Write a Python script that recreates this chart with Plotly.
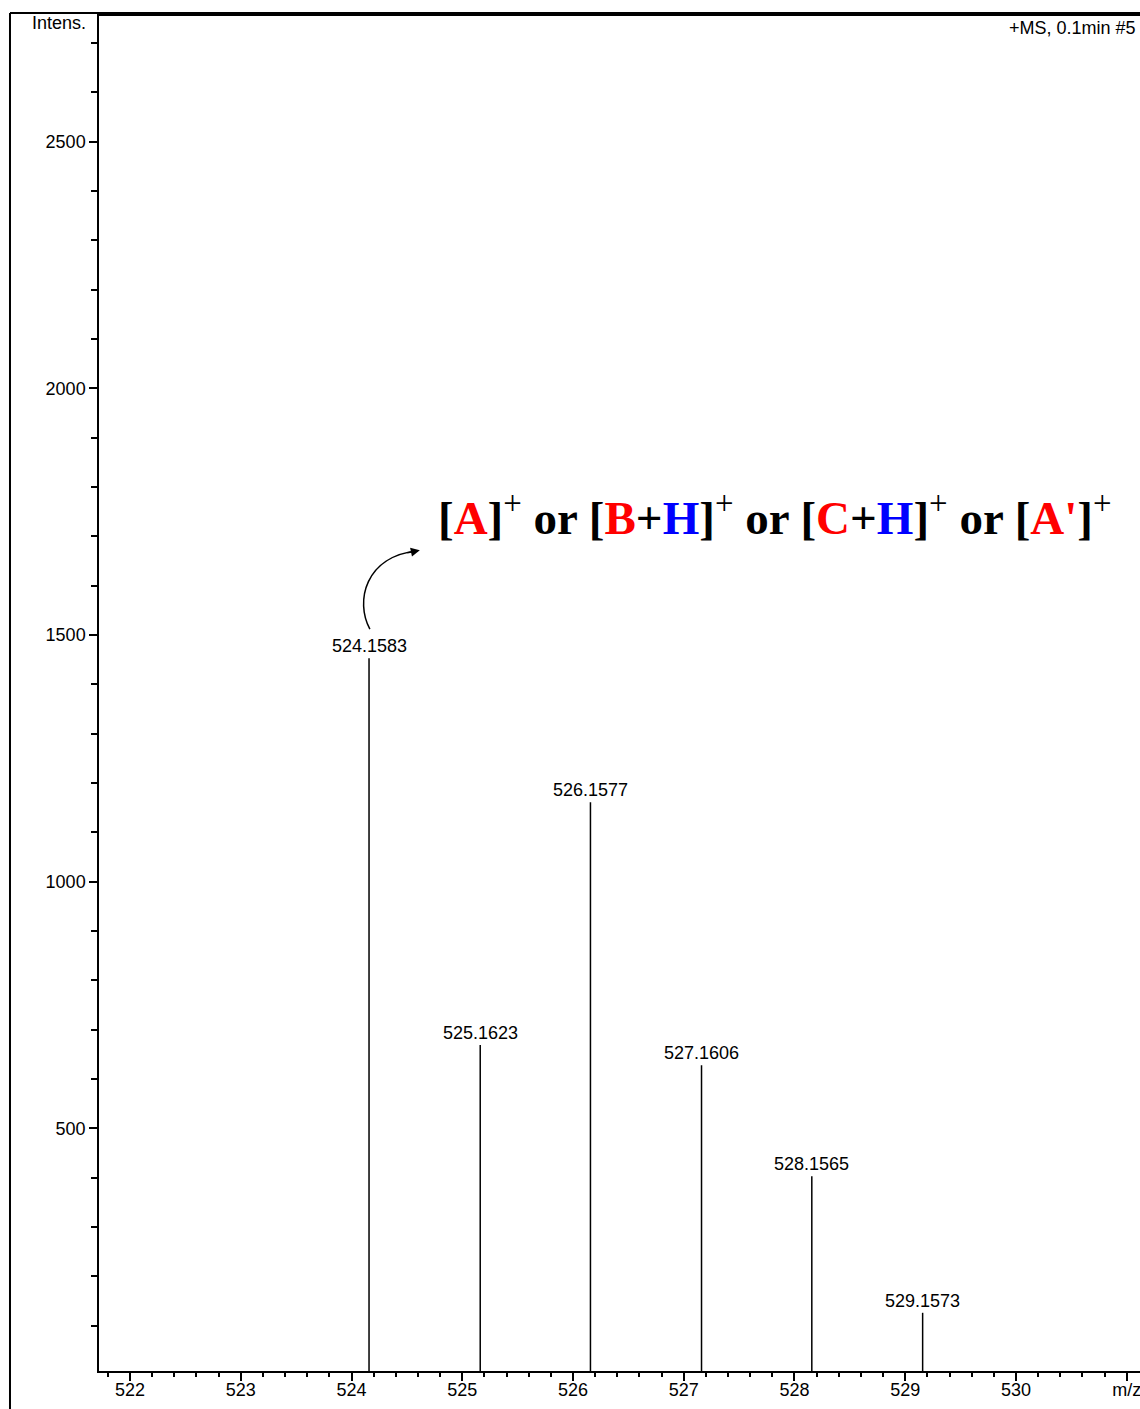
import plotly.graph_objects as go

# ---- data ----
peak_mz = [524.1583, 525.1623, 526.1577, 527.1606, 528.1565, 529.1573]
peak_int = [1453, 669, 1161, 628, 403, 126]
peak_labels = ["524.1583", "525.1623", "526.1577", "527.1606", "528.1565", "529.1573"]
x_tickvals = [522, 523, 524, 525, 526, 527, 528, 529, 530, 531]
x_ticktext = ["522", "523", "524", "525", "526", "527", "528", "529", "530", "m/z"]
y_tickvals = [500, 1000, 1500, 2000, 2500]
y_ticktext = ["500", "1000", "1500", "2000", "2500"]

FONT = "Liberation Sans, Arial, sans-serif"
FS = 18

xs, ys = [], []
for m, h in zip(peak_mz, peak_int):
    xs += [m, m, None]
    ys += [0, h, None]

fig = go.Figure()
fig.add_trace(go.Scatter(x=xs, y=ys, mode="lines",
                         line=dict(color="black", width=1.5),
                         hoverinfo="skip", showlegend=False))

annotations = []
for m, h, lab in zip(peak_mz, peak_int, peak_labels):
    annotations.append(dict(x=m, y=h, text=lab, showarrow=False,
                            xanchor="center", yanchor="bottom", yshift=0,
                            font=dict(family=FONT, size=FS, color="black")))

R = "<b style='color:#ff0000'>"
B = "<b style='color:#0000ff'>"
big = ("<b>[</b>" + R + "A</b><b>]</b><sup>+</sup><b> or [</b>" + R + "B</b><b>+</b>" + B + "H</b><b>]</b><sup>+</sup>"
       "<b> or [</b>" + R + "C</b><b>+</b>" + B + "H</b><b>]</b><sup>+</sup><b> or [</b>" + R + "A'</b><b>]</b><sup>+</sup>")
annotations.append(dict(x=524.762, y=1745, text=big, showarrow=False,
                        xanchor="left", yanchor="middle",
                        font=dict(family="Liberation Serif, Times New Roman, serif", size=47, color="black")))

# arrowhead at the end of the curved arrow
annotations.append(dict(x=524.617, y=1672, ax=-14, ay=3, text="", showarrow=True,
                        arrowhead=2, arrowsize=1.2, arrowwidth=1.5, arrowcolor="black",
                        axref="pixel", ayref="pixel"))

annotations.append(dict(x=-0.0106, y=0.9948, xref="paper", yref="paper", text="Intens.",
                        showarrow=False, xanchor="right", yanchor="middle",
                        font=dict(family=FONT, size=FS, color="black")))
annotations.append(dict(x=0.998, y=0.991, xref="paper", yref="paper", text="+MS, 0.1min #5",
                        showarrow=False, xanchor="right", yanchor="middle",
                        font=dict(family=FONT, size=FS, color="black")))

shapes = [
    # curved arrow body
    dict(type="path", xref="x", yref="y",
         path="M 524.166,1512 C 524.031,1568 524.121,1660 524.60,1671",
         line=dict(color="black", width=1.5)),
    # outer frame
    dict(type="line", xref="paper", yref="paper", x0=-0.0855, x1=-0.0855, y0=-0.03, y1=1.0022,
         line=dict(color="black", width=2)),
    dict(type="line", xref="paper", yref="paper", x0=-0.0855, x1=1.0, y0=1.0022, y1=1.0022,
         line=dict(color="black", width=2)),
]

fig.update_layout(
    width=1140, height=1409,
    margin=dict(l=99, r=0, t=16, b=38),
    paper_bgcolor="white", plot_bgcolor="white",
    font=dict(family=FONT, size=FS, color="black"),
    annotations=annotations, shapes=shapes,
    showlegend=False,
)
fig.update_xaxes(range=[521.72, 531.12], showgrid=False, zeroline=False,
                 showline=True, linecolor="black", linewidth=1.5, mirror=True,
                 tickmode="array", tickvals=x_tickvals, ticktext=x_ticktext,
                 ticks="outside", ticklen=8, tickwidth=1.5, tickcolor="black",
                 ticklabeloverflow="allow", ticklabelstandoff=-6,
                 minor=dict(dtick=0.2, tick0=522, ticks="outside", ticklen=4, tickwidth=1.5, tickcolor="black"),
                 tickfont=dict(family=FONT, size=FS))
fig.update_yaxes(range=[8, 2755], showgrid=False, zeroline=False,
                 showline=True, linecolor="black", linewidth=1.5,
                 tickmode="array", tickvals=y_tickvals, ticktext=y_ticktext,
                 ticks="outside", ticklen=8, tickwidth=1.5, tickcolor="black",
                 minor=dict(dtick=100, tick0=0, ticks="outside", ticklen=6, tickwidth=1.5, tickcolor="black"),
                 tickfont=dict(family=FONT, size=FS))

fig.write_html("out.html", config={"displayModeBar": False},
               post_script="document.body.style.margin='0';document.body.style.overflow='hidden';")
